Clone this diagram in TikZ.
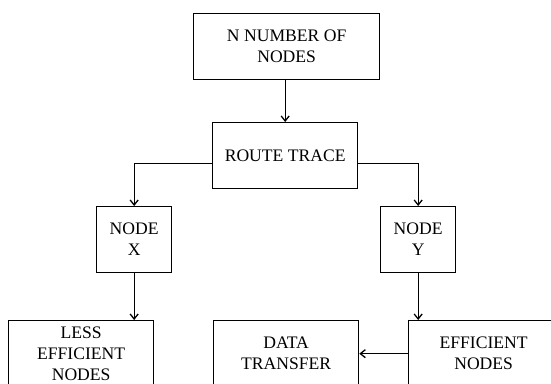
\documentclass[tikz,border=0pt]{standalone}
\usepackage{fontspec}
\setmainfont{Liberation Serif}
\usetikzlibrary{arrows.meta}
\begin{document}
\begin{tikzpicture}[x=1pt,y=-1pt,
  box/.style={draw, line width=1.3pt, minimum height=66pt, align=center,
    font=\fontsize{17.6}{21}\selectfont, inner sep=0pt, anchor=north west},
  link/.style={line width=1.3pt, -{Straight Barb[length=5pt,width=8pt]}}]
\useasboundingbox (0,0) rectangle (551,383);
\clip (0,0) rectangle (551,383);
% boxes
\node[box, minimum width=186pt] (nn) at (193,13) {N NUMBER OF\\NODES};
\node[box, minimum width=145pt] (rt) at (212,122) {ROUTE TRACE};
\node[box, minimum width=75pt]  (nx) at (96,206)  {NODE\\X};
\node[box, minimum width=75pt]  (ny) at (380,206) {NODE\\Y};
\node[box, minimum width=145pt] (le) at (8,320)   {LESS\\EFFICIENT\\NODES};
\node[box, minimum width=145pt] (dt) at (213,320) {DATA\\TRANSFER};
\node[box, minimum width=150pt] (ef) at (408,320) {EFFICIENT\\NODES};
% connectors
\draw[link] (rt.north |- nn.south) -- (rt.north);
\draw[link] ([yshift=-8pt]rt.west) -| (nx.north);
\draw[link] ([yshift=-8pt]rt.east) -| (ny.north);
\draw[link] (nx.south) -- (nx.south |- le.north);
\draw[link] (ny.south) -- (ny.south |- ef.north);
\draw[link] (ef.west) -- (dt.east);
\end{tikzpicture}
\end{document}
